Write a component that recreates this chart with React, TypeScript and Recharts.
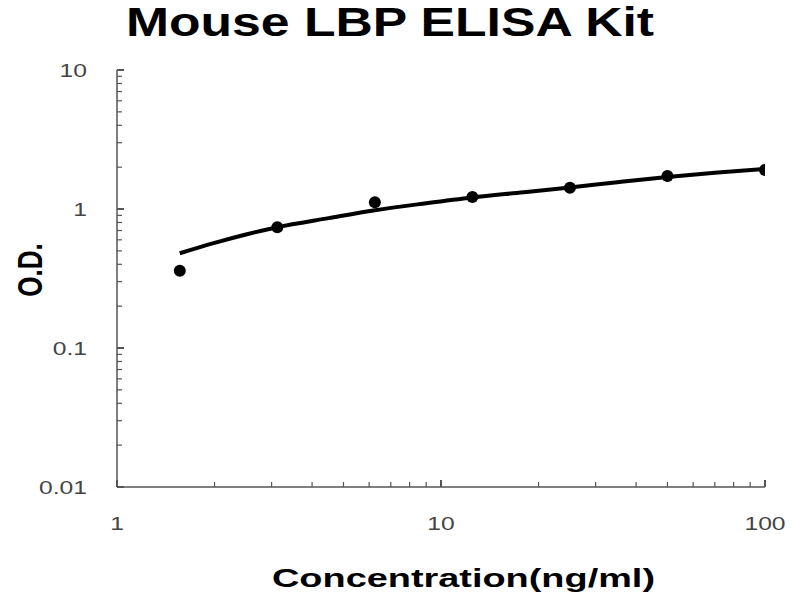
import { ComposedChart, Line, Scatter, XAxis, YAxis } from 'recharts';

// standard points (ng/ml) and measured O.D.
const concentrations = [1.5625, 3.125, 6.25, 12.5, 25, 50, 100];
const odValues = [0.36, 0.74, 1.12, 1.22, 1.42, 1.73, 1.91];

// fitted curve
const fitConcentrations = [1.5625, 2, 2.5, 3.125, 4.5, 6.25, 9, 12.5, 18, 25, 35, 50, 70, 100];
const fitValues = [0.48, 0.57, 0.655, 0.74, 0.86, 0.98, 1.1, 1.21, 1.32, 1.43, 1.56, 1.7, 1.82, 1.94];

const xTicks = [1, 2, 3, 4, 5, 6, 7, 8, 9, 10, 20, 30, 40, 50, 60, 70, 80, 90, 100];
const yTicks = [
  0.01, 0.02, 0.03, 0.04, 0.05, 0.06, 0.07, 0.08, 0.09,
  0.1, 0.2, 0.3, 0.4, 0.5, 0.6, 0.7, 0.8, 0.9,
  1, 2, 3, 4, 5, 6, 7, 8, 9, 10,
];
const xLabels = [1, 10, 100];
const yLabels = [0.01, 0.1, 1, 10];

const points = concentrations.map((conc, i) => ({ conc, od: odValues[i] }));
const fit = fitConcentrations.map((conc, i) => ({ conc, od: fitValues[i] }));

const AXIS = '#555';
const TICK_TEXT = '#444';
const Y_GAP = 30;
const X_GAP = 36;

const YTick = (props: any) => {
  const { x, y, payload } = props;
  const major = yLabels.includes(payload.value);
  const ax = x + Y_GAP;
  return (
    <g>
      <line x1={ax} x2={ax + (major ? 7 : 5)} y1={y} y2={y} stroke={AXIS} strokeWidth={major ? 2 : 1.2} />
      {major && (
        <text
          transform={`translate(${x},${y}) scale(1.3,1)`}
          textAnchor="end"
          dy="0.36em"
          fontSize={19}
          fontFamily="Liberation Sans, Arial, sans-serif"
          fill={TICK_TEXT}
        >
          {payload.value}
        </text>
      )}
    </g>
  );
};

const XTick = (props: any) => {
  const { x, y, payload } = props;
  const major = xLabels.includes(payload.value);
  const ay = y - X_GAP;
  return (
    <g>
      <line x1={x} x2={x} y1={ay} y2={ay - (major ? 7 : 5)} stroke={AXIS} strokeWidth={major ? 2 : 1.2} />
      {major && (
        <text
          transform={`translate(${x},${y}) scale(1.3,1)`}
          textAnchor="middle"
          dy="0.36em"
          fontSize={19}
          fontFamily="Liberation Sans, Arial, sans-serif"
          fill={TICK_TEXT}
        >
          {payload.value}
        </text>
      )}
    </g>
  );
};

const Dot = (props: any) => <circle cx={props.cx} cy={props.cy} r={6} fill="#000" />;

export default function App() {
  return (
    <div style={{ position: 'absolute', left: 0, top: 0, width: 800, height: 600, background: '#fff' }}>
      <ComposedChart width={800} height={600} margin={{ top: 70, right: 35, bottom: 0, left: 0 }}>
        <XAxis
          type="number"
          dataKey="conc"
          scale="log"
          domain={[1, 100]}
          allowDataOverflow
          ticks={xTicks}
          interval={0}
          height={113}
          tickSize={0}
          tickMargin={X_GAP}
          tickLine={false}
          axisLine={{ stroke: AXIS, strokeWidth: 1.5 }}
          tick={<XTick />}
        />
        <YAxis
          type="number"
          dataKey="od"
          scale="log"
          domain={[0.01, 10]}
          allowDataOverflow
          ticks={yTicks}
          interval={0}
          width={117}
          tickSize={0}
          tickMargin={Y_GAP}
          tickLine={false}
          axisLine={{ stroke: AXIS, strokeWidth: 1.5 }}
          tick={<YTick />}
        />
        <Line
          data={fit}
          dataKey="od"
          type="monotone"
          stroke="#000"
          strokeWidth={4}
          dot={false}
          activeDot={false}
          isAnimationActive={false}
        />
        <Scatter data={points} dataKey="od" fill="#000" shape={<Dot />} isAnimationActive={false} />
      </ComposedChart>
      <svg
        width={800}
        height={600}
        style={{ position: 'absolute', left: 0, top: 0, pointerEvents: 'none' }}
        fontFamily="Liberation Sans, Arial, sans-serif"
        fontWeight="bold"
      >
        <text x={126} y={36} fontSize={41} textLength={528} lengthAdjust="spacingAndGlyphs" fill="#000">
          Mouse LBP ELISA Kit
        </text>
        <text x={272} y={587} fontSize={26} textLength={383} lengthAdjust="spacingAndGlyphs" fill="#000">
          Concentration(ng/ml)
        </text>
        <text
          transform="translate(42,270) scale(1.35,1) rotate(-90)"
          textAnchor="middle"
          fontSize={26}
          fill="#000"
        >
          O.D.
        </text>
      </svg>
    </div>
  );
}
